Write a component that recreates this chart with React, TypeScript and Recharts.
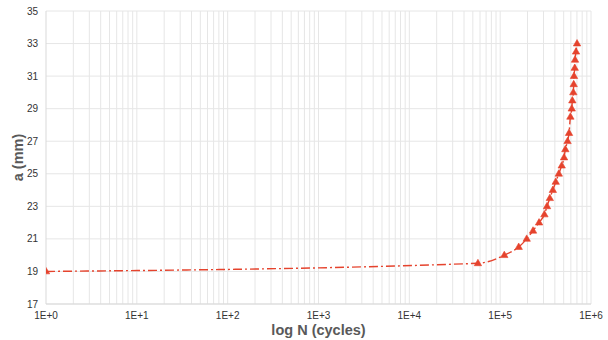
import React from "react";
import {
  LineChart, Line, XAxis, YAxis, CartesianGrid, ReferenceLine,
} from "recharts";

// crack length a (mm) against cycle count N
const cycles = [
  1, 56900, 111000, 160000, 196000, 230000, 268000, 307000, 328000, 352000,
  380000, 409000, 442000, 476000, 505000, 522000, 552000, 573000, 593000,
  614000, 623000, 639000, 645000, 650000, 662000, 667000, 684000, 702000,
];
const crackLength = [
  19, 19.5, 20, 20.5, 21, 21.5, 22, 22.5, 23, 23.5,
  24, 24.5, 25, 25.5, 26, 26.5, 27, 27.5, 28.5,
  29, 29.5, 30, 30.5, 31, 31.5, 32, 32.5, 33,
];

const xTicks = [1, 10, 100, 1000, 10000, 100000, 1000000];
const yTicks = [17, 19, 21, 23, 25, 27, 29, 31, 33, 35];

const data = cycles.map((n, i) => ({ n, a: crackLength[i] }));

// 2..9 inside every decade
const minorX: number[] = [];
xTicks.slice(0, -1).forEach((d) => {
  for (let k = 2; k <= 9; k++) minorX.push(d * k);
});

const RED = "#e5432d";
const GRID = "#e6e6e6";
const FONT = "'Liberation Sans', Arial, sans-serif";
const TICK_STYLE = { fontSize: 10, fill: "#333", fontFamily: FONT };

const Triangle = (props: any) => {
  const { cx, cy } = props;
  if (cx == null || cy == null) return null;
  return (
    <path
      d={`M${cx},${cy - 4} L${cx + 3.7},${cy + 2.4} L${cx - 3.7},${cy + 2.4} Z`}
      fill={RED}
      stroke={RED}
      strokeWidth={0.6}
    />
  );
};

const expLabel = (v: number) => `1E+${Math.round(Math.log10(v))}`;

export default function App() {
  return (
    <div style={{ position: "absolute", left: 0, top: 0, background: "#fff" }}>
      <LineChart
        width={608}
        height={340}
        data={data}
        margin={{ top: 11, right: 17, bottom: 0, left: 0 }}
      >
        <CartesianGrid stroke={GRID} vertical={false} />
        {minorX.concat(xTicks.slice(1)).map((v) => (
          <ReferenceLine key={v} x={v} stroke={GRID} strokeWidth={1} />
        ))}
        <XAxis
          dataKey="n"
          type="number"
          scale="log"
          domain={[1, 1000000]}
          ticks={xTicks}
          tickFormatter={expLabel}
          allowDataOverflow
          height={36}
          tick={TICK_STYLE}
          tickSize={0}
          tickMargin={8}
          axisLine={{ stroke: "#d9d9d9" }}
          label={{
            value: "log N (cycles)",
            position: "insideBottom",
            offset: 5,
            style: { fontSize: 14.5, fontWeight: 700, fill: "#595959", fontFamily: FONT },
          }}
        />
        <YAxis
          type="number"
          domain={[17, 35]}
          ticks={yTicks}
          interval={0}
          width={46}
          tick={TICK_STYLE}
          tickSize={0}
          tickMargin={8}
          axisLine={{ stroke: "#d9d9d9" }}
          label={{
            value: "a (mm)",
            angle: -90,
            position: "insideLeft",
            offset: 18,
            style: { fontSize: 14.5, fontWeight: 700, fill: "#595959", fontFamily: FONT, textAnchor: "middle" },
          }}
        />
        <Line
          dataKey="a"
          type="monotone"
          stroke={RED}
          strokeWidth={1.4}
          strokeDasharray="9 3 2 3"
          dot={<Triangle />}
          activeDot={false}
          isAnimationActive={false}
        />
      </LineChart>
    </div>
  );
}
